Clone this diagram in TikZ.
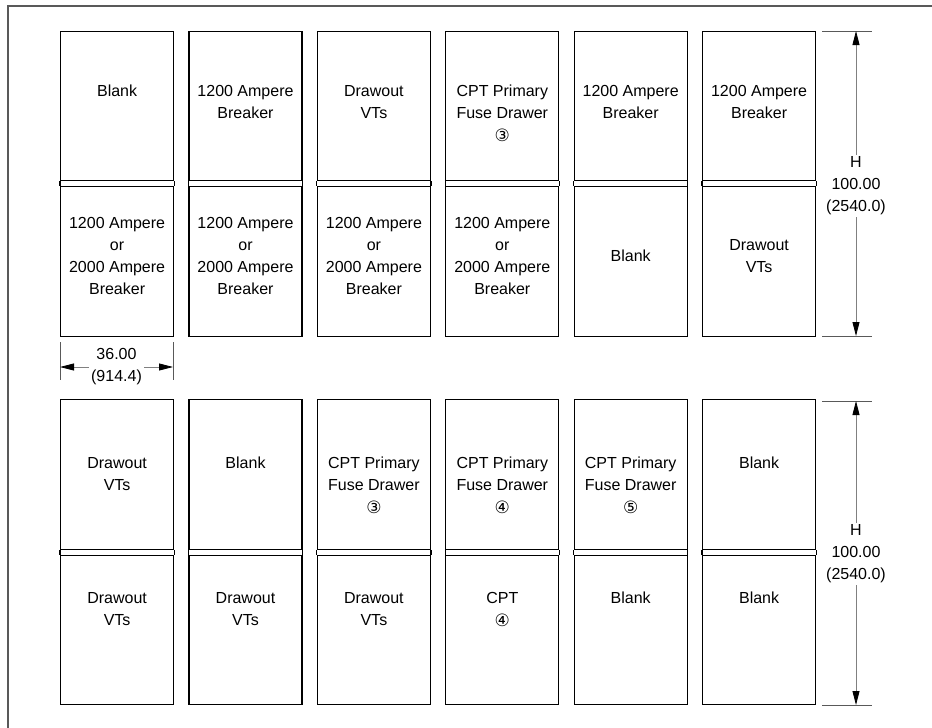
\documentclass[tikz,border=0pt]{standalone}
\usepackage{fontspec}
\setmainfont{Liberation Sans}
\newfontfamily\circfont{DejaVu Sans}
\usetikzlibrary{arrows.meta,positioning}

\newcommand{\cnum}[1]{{\circfont\fontsize{17}{17}\selectfont #1}}

\begin{document}
\begin{tikzpicture}[x=1pt, y=-1pt,
  cell/.style={rectangle, draw=black, line width=1.2pt, minimum width=113pt,
               inner sep=0pt, anchor=north west},
  boxline/.style={draw=black, line width=1.2pt},
  txt/.style={align=center, inner sep=0pt, font=\fontsize{16}{22}\selectfont},
  ext/.style={draw=black!65, line width=0.9pt},
  dimarr/.style={draw=black!50, line width=0.8pt,
                 {Triangle[length=14pt,width=7pt,color=black]}-{Triangle[length=14pt,width=7pt,color=black]}},
  dimtxt/.style={txt, fill=white, inner sep=2pt},
  frame/.style={draw=black!65, line width=1.5pt}
]
\useasboundingbox (0,0) rectangle (932,728);
\draw[frame] (8,728) -- (8,6) -- (932,6);

% cubicles: row 1 (top) and row 2 (bottom)
\foreach \i/\ua/\la/\ub/\lb in {
  1/{Blank}/{1200 Ampere\\or\\2000 Ampere\\Breaker}/{Drawout\\VTs}/{Drawout\\VTs},
  2/{1200 Ampere\\Breaker}/{1200 Ampere\\or\\2000 Ampere\\Breaker}/{Blank}/{Drawout\\VTs},
  3/{Drawout\\VTs}/{1200 Ampere\\or\\2000 Ampere\\Breaker}/{CPT Primary\\Fuse Drawer\\[1pt]\cnum{③}}/{Drawout\\VTs},
  4/{CPT Primary\\Fuse Drawer\\[1pt]\cnum{③}}/{1200 Ampere\\or\\2000 Ampere\\Breaker}/{CPT Primary\\Fuse Drawer\\[1pt]\cnum{④}}/{CPT\\[1pt]\cnum{④}},
  5/{1200 Ampere\\Breaker}/{Blank}/{CPT Primary\\Fuse Drawer\\[1pt]\cnum{⑤}}/{Blank},
  6/{1200 Ampere\\Breaker}/{Drawout\\VTs}/{Blank}/{Blank}}{
  \pgfmathsetmacro\xx{60+128.4*(\i-1)}
  \node[cell, minimum height=149pt] (up\i) at (\xx,31) {};
  \node[cell, minimum height=150pt] (lo\i) at (\xx,186) {};
  \draw[boxline] (up\i.south west) -- (lo\i.north west)
                 (up\i.south east) -- (lo\i.north east);
  \node[cell, minimum height=150pt] (upb\i) at (\xx,399) {};
  \node[cell, minimum height=149pt] (lob\i) at (\xx,555) {};
  \draw[boxline] (upb\i.south west) -- (lob\i.north west)
                 (upb\i.south east) -- (lob\i.north east);
  \node[txt, below=54pt of up\i.north] (tup\i) {\ua};
  \node[txt] (tlo\i) at ([yshift=6pt]lo\i.center) {\la};
  \node[txt, below=58pt of upb\i.north] (tupb\i) {\ub};
  \node[txt, below=37pt of lob\i.north] (tlob\i) {\lb};
}

% height dimensions
\coordinate (h1t) at (856,31);
\coordinate (h1b) at (856,336);
\coordinate (h2t) at (856,401);
\coordinate (h2b) at (856,705);
\foreach \c in {h1t,h1b,h2t,h2b}
  \draw[ext] ([xshift=-34pt]\c) -- ([xshift=16pt]\c);
\draw[dimarr] (h1t) -- (h1b);
\draw[dimarr] (h2t) -- (h2b);
\node[dimtxt] (h1lab) at (856,186) {H\\100.00\\(2540.0)};
\node[dimtxt] (h2lab) at (856,554) {H\\100.00\\(2540.0)};

% width dimension
\coordinate (wl) at (60,367);
\coordinate (wr) at (173,367);
\draw[ext] ([yshift=25pt]wl) -- ([yshift=-13pt]wl);
\draw[ext] ([yshift=25pt]wr) -- ([yshift=-13pt]wr);
\draw[dimarr] (wl) -- (wr);
\node[dimtxt] (wlab) at (116.5,367) {36.00\\(914.4)};
\end{tikzpicture}
\end{document}
